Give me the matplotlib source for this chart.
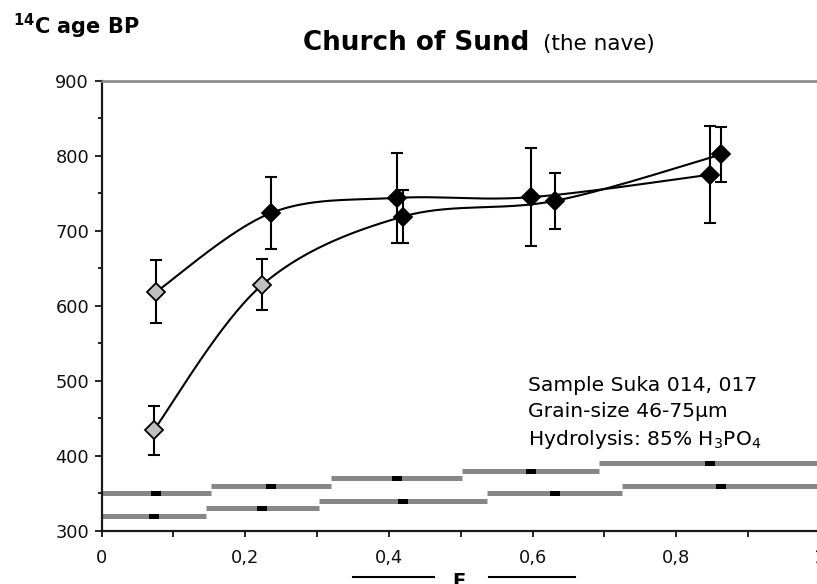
import numpy as np
import matplotlib
matplotlib.use("Agg")
import matplotlib.pyplot as plt
from matplotlib.ticker import MultipleLocator, FuncFormatter
from matplotlib.lines import Line2D

# Fraction intervals (F) of the two hydrolysis sequences
frac_edges_a = [0.0, 0.1526, 0.3195, 0.502, 0.693, 1.0]
frac_edges_b = [0.0, 0.145, 0.302, 0.536, 0.725, 1.0]

# 14C ages (BP) and 1-sigma errors per fraction
age_a = [619, 724, 744, 745, 775]
err_a = [42, 48, 60, 65, 65]
age_b = [434, 628, 719, 740, 802]
err_b = [33, 34, 35, 37, 37]

# Marker fill per fraction
fill_a = ["#c0c0c0", "black", "black", "black", "black"]
fill_b = ["#c0c0c0", "#c0c0c0", "black", "black", "black"]

# Rows on which the fraction intervals are drawn
bar_level_a = [350, 360, 370, 380, 390]
bar_level_b = [320, 330, 340, 350, 360]

x_ticks = [0, 0.2, 0.4, 0.6, 0.8, 1.0]
y_ticks = [300, 400, 500, 600, 700, 800, 900]

W, H = 817, 584


def smooth(x, y, n=60):
    """Smoothed line through the points (cubic Bezier, Catmull-Rom tangents)."""
    p = np.column_stack([x, y]).astype(float)
    ext = np.vstack([p[0], p, p[-1]])
    t = np.linspace(0, 1, n)[:, None]
    out = []
    for i in range(len(p) - 1):
        p0, p1, p2, p3 = ext[i], ext[i + 1], ext[i + 2], ext[i + 3]
        c1 = p1 + (p2 - p0) / 6
        c2 = p2 - (p3 - p1) / 6
        seg = (1 - t) ** 3 * p1 + 3 * (1 - t) ** 2 * t * c1 + 3 * (1 - t) * t ** 2 * c2 + t ** 3 * p2
        out.append(seg if i == 0 else seg[1:])
    s = np.vstack(out)
    return s[:, 0], s[:, 1]


def fx(px):
    return px / W


def fy(py_top):
    return (H - py_top) / H


fig = plt.figure(figsize=(W / 100, H / 100), dpi=100)
ax = fig.add_axes([fx(101.6), fy(530.7), (820 - 101.6) / W, (530.7 - 81) / H])

mid_a = [(a + b) / 2 for a, b in zip(frac_edges_a[:-1], frac_edges_a[1:])]
mid_b = [(a + b) / 2 for a, b in zip(frac_edges_b[:-1], frac_edges_b[1:])]

# Fraction interval bars with their midpoints
for edges, levels, mids in ((frac_edges_a, bar_level_a, mid_a), (frac_edges_b, bar_level_b, mid_b)):
    ax.hlines(levels, edges[:-1], edges[1:], colors="#878787", lw=3.6, zorder=2)
    ax.plot(mids, levels, ls="none", marker=[(-1, -0.5), (1, -0.5), (1, 0.5), (-1, 0.5), (-1, -0.5)],
            ms=7.2, color="black", mew=0, zorder=3, clip_on=False)

# Smoothed curves, error bars and markers
for mids, ages, errs, fills in ((mid_a, age_a, err_a, fill_a), (mid_b, age_b, err_b, fill_b)):
    sx, sy = smooth(mids, ages)
    ax.plot(sx, sy, color="black", lw=1.5, zorder=4)
    ax.errorbar(mids, ages, yerr=errs, fmt="none", ecolor="black", elinewidth=1.5,
                capsize=4, capthick=1.5, zorder=5)
    for x, y, c in zip(mids, ages, fills):
        ax.plot([x], [y], marker="D", ms=9.3, mfc=c, mec="black", mew=1.3, ls="none", zorder=6)

ax.set_xlim(0, 1)
ax.set_ylim(300, 900)
ax.set_xticks(x_ticks)
ax.set_yticks(y_ticks)
ax.xaxis.set_minor_locator(MultipleLocator(0.1))
ax.yaxis.set_minor_locator(MultipleLocator(50))
ax.xaxis.set_major_formatter(FuncFormatter(lambda v, _: f"{v:g}".replace(".", ",")))

ax.tick_params(axis="both", which="major", direction="out", width=1.2, color="black",
               labelsize=12.8, labelcolor="#111111")
ax.tick_params(axis="y", which="major", length=5, pad=4)
ax.tick_params(axis="y", which="minor", length=3.2, width=1.2)
ax.tick_params(axis="x", which="major", length=4, pad=9)
ax.tick_params(axis="x", which="minor", length=4, width=1.2)

ax.spines["right"].set_visible(False)
ax.spines["top"].set_color("#808080")
ax.spines["top"].set_linewidth(1.8)
ax.spines["left"].set_color("#1a1a1a")
ax.spines["left"].set_linewidth(1.6)
ax.spines["bottom"].set_color("#1a1a1a")
ax.spines["bottom"].set_linewidth(1.6)

# Sample information
tx = 0.5935
ax.text(tx, 486.7, "Sample Suka 014, 017", fontsize=14.6, va="baseline", ha="left")
ax.text(tx, 451.2, "Grain-size 46-75µm", fontsize=14.6, va="baseline", ha="left")
ax.text(tx, 414.3, "Hydrolysis: 85% H$_3$PO$_4$", fontsize=14.6, va="baseline", ha="left")

# Title and axis captions
fig.text(fx(303), fy(50), "Church of Sund", fontsize=18.9, fontweight="bold",
         ha="left", va="baseline")
fig.text(fx(543), fy(50), "(the nave)", fontsize=15.5, ha="left", va="baseline")
fig.text(fx(13), fy(34), r"$^{\mathbf{14}}$C age BP", fontsize=15, fontweight="bold",
         ha="left", va="baseline")
fig.text(fx(458.5), fy(587), "F", fontsize=14, fontweight="bold", ha="center", va="baseline")
for x0, x1 in ((353, 434), (489, 575)):
    fig.add_artist(Line2D([fx(x0), fx(x1)], [fy(576.7), fy(576.7)], color="black", lw=1.5))

fig.savefig("out.png", dpi=100)
